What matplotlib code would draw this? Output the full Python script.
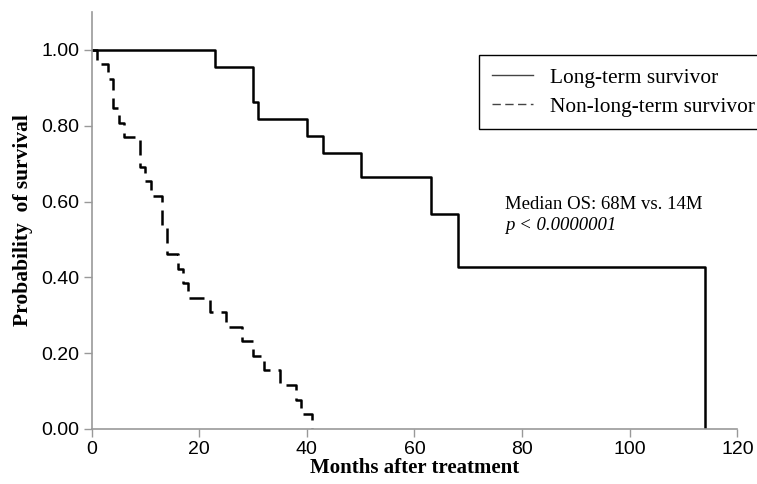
import matplotlib
matplotlib.use("Agg")
import matplotlib.pyplot as plt

# Kaplan-Meier steps (months, survival probability)
lt_months = [0, 23, 30, 31, 40, 43, 50, 63, 68, 114]
lt_surv = [1.00, 0.955, 0.864, 0.818, 0.773, 0.727, 0.664, 0.568, 0.426, 0.00]

nlt_months = [0, 1, 3, 4, 5, 6, 9, 10, 11, 13, 14, 16, 17, 18, 22, 25, 28, 30, 32, 35, 38, 39, 41]
nlt_surv = [1.00, 0.962, 0.923, 0.846, 0.808, 0.769, 0.692, 0.654, 0.615, 0.538, 0.462,
            0.423, 0.385, 0.346, 0.308, 0.269, 0.231, 0.192, 0.154, 0.115, 0.077, 0.038, 0.00]

x_ticks = [0, 20, 40, 60, 80, 100, 120]
y_ticks = [0.0, 0.2, 0.4, 0.6, 0.8, 1.0]

serif = ["Liberation Serif", "DejaVu Serif"]
sans = ["Liberation Sans Narrow", "Liberation Sans", "DejaVu Sans"]

fig = plt.figure(figsize=(7.57, 4.84), dpi=100)
ax = fig.add_axes([0.121, 0.114, 0.853, 0.861])

ax.plot(lt_months, lt_surv, drawstyle="steps-post", color="black", lw=1.8,
        label="Long-term survivor")
ax.plot(nlt_months, nlt_surv, drawstyle="steps-post", color="black", lw=1.8,
        dashes=(6, 3.2), label="Non-long-term survivor")

ax.set_xlim(0, 120)
ax.set_ylim(0, 1.1)
ax.set_xticks(x_ticks)
ax.set_yticks(y_ticks)
ax.set_yticklabels([f"{v:.2f}" for v in y_ticks])
for lab in ax.get_xticklabels() + ax.get_yticklabels():
    lab.set_family(sans)
    lab.set_fontsize(14)

for s in ["top", "right"]:
    ax.spines[s].set_visible(False)
for s in ["left", "bottom"]:
    ax.spines[s].set_color("#999999")
    ax.spines[s].set_linewidth(1.2)
ax.tick_params(direction="out", length=6, color="#999999", width=1, pad=3)

ax.set_xlabel("Months after treatment", family=serif, fontweight="bold", fontsize=15, labelpad=0)
ax.set_ylabel("Probability  of survival", family=serif, fontweight="bold", fontsize=15.5, labelpad=6)

ax.text(76.8, 0.593, "Median OS: 68M vs. 14M", family=serif, fontsize=13.5, va="center", ha="left")
ax.text(76.8, 0.538, "p < 0.0000001", family=serif, fontsize=13.5, style="italic", va="center", ha="left")

leg = fig.legend(loc="upper left", bbox_to_anchor=(0.633, 0.886), borderaxespad=0,
                 fancybox=False, edgecolor="black", framealpha=1,
                 prop={"family": serif, "size": 15.4}, handlelength=1.9,
                 handletextpad=0.8, labelspacing=0.4, borderpad=0.6)
leg.get_frame().set_linewidth(1.0)
for h in leg.get_lines():
    h.set_linewidth(1.0)
    h.set_color("#444444")

fig.savefig("out.png", dpi=100)
